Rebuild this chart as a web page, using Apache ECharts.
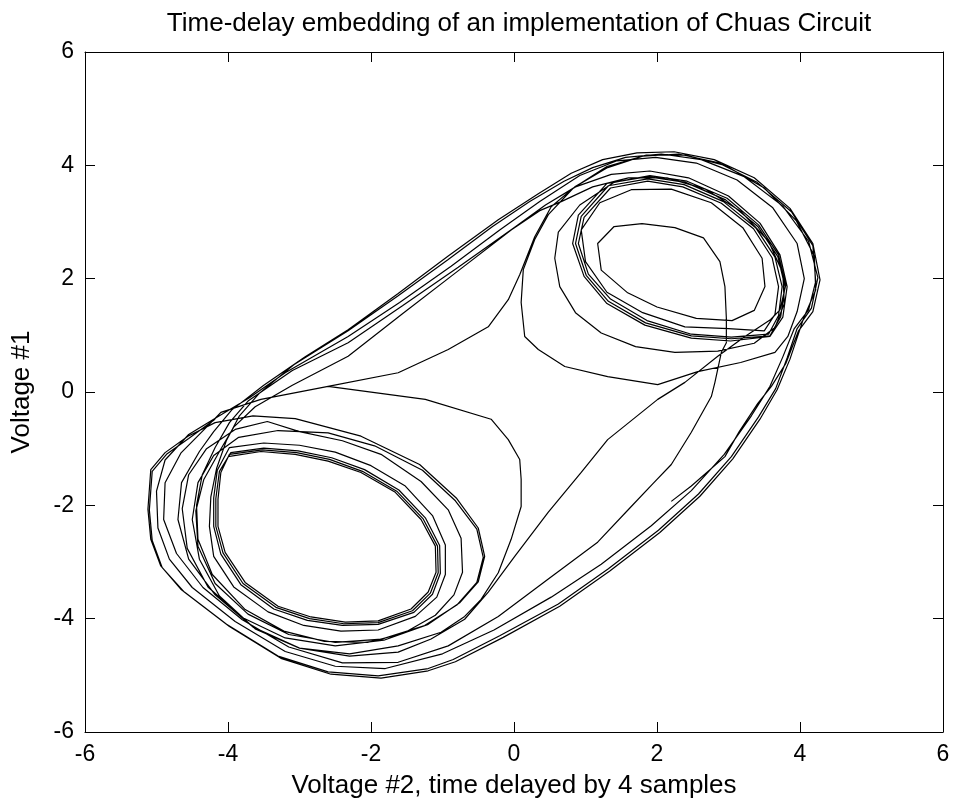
<!DOCTYPE html>
<html>
<head>
<meta charset="utf-8">
<title>Chua circuit time-delay embedding</title>
<script src="https://cdn.jsdelivr.net/npm/echarts@6/dist/echarts.min.js"></script>
<style>
  html, body { margin: 0; padding: 0; background: #fff; }
  #chart { width: 957px; height: 804px; }
</style>
</head>
<body>
<div id="chart"></div>
<script>
// Axis ticks (both axes run -6..6 in steps of 2)
const xTicks = [-6, -4, -2, 0, 2, 4, 6];
const yTicks = [-6, -4, -2, 0, 2, 4, 6];

// Trajectory pieces, in the order the circuit visits them: [V2(t-4), V1(t)]
// Lower-left scroll: tight inner orbits
const leftInner1 = [[-4.00,-1.14],[-3.54,-1.05],[-3.06,-1.10],[-2.60,-1.22],[-2.14,-1.42],[-1.66,-1.77],[-1.30,-2.25],[-1.10,-2.72],[-1.09,-3.18],[-1.20,-3.53],[-1.44,-3.83],[-1.90,-4.04],[-2.36,-4.06],[-2.84,-3.97],[-3.30,-3.78],[-3.76,-3.36],[-4.04,-2.83],[-4.14,-2.37],[-4.14,-1.89],[-4.10,-1.42]];
const leftInner2 = [[-3.98,-1.10],[-3.52,-1.02],[-3.04,-1.07],[-2.58,-1.19],[-2.12,-1.40],[-1.64,-1.75],[-1.27,-2.24],[-1.07,-2.72],[-1.06,-3.19],[-1.17,-3.55],[-1.42,-3.86],[-1.90,-4.07],[-2.38,-4.09],[-2.86,-4.00],[-3.33,-3.80],[-3.79,-3.38],[-4.07,-2.84],[-4.17,-2.37],[-4.17,-1.88],[-4.12,-1.40]];
const leftInner3 = [[-3.96,-1.07],[-3.50,-0.99],[-3.02,-1.04],[-2.55,-1.16],[-2.09,-1.37],[-1.61,-1.73],[-1.24,-2.22],[-1.04,-2.71],[-1.03,-3.20],[-1.14,-3.57],[-1.40,-3.89],[-1.90,-4.10],[-2.40,-4.12],[-2.89,-4.03],[-3.36,-3.83],[-3.82,-3.40],[-4.10,-2.86],[-4.20,-2.37],[-4.20,-1.87],[-4.15,-1.38]];
const leftRingB = [[-3.98,-0.98],[-3.50,-0.90],[-3.00,-0.94],[-2.50,-1.06],[-2.00,-1.30],[-1.52,-1.66],[-1.14,-2.18],[-0.96,-2.70],[-0.96,-3.22],[-1.08,-3.62],[-1.38,-3.96],[-1.90,-4.20],[-2.42,-4.22],[-2.94,-4.12],[-3.44,-3.88],[-3.92,-3.44],[-4.20,-2.90],[-4.26,-2.37],[-4.24,-1.85]];
// First crossing to the upper-right scroll and back down the outer band
const riseOne = [[-4.16,-1.35],[-4.02,-0.85],[-3.84,-0.42],[-3.56,-0.02],[-3.08,0.48],[-2.32,1.08],[-1.62,1.70],[-0.92,2.34],[-0.30,2.92],[0.22,3.36],[0.70,3.72],[1.10,3.96],[1.56,4.14],[2.06,4.20],[2.62,4.10],[3.22,3.80],[3.76,3.28],[4.12,2.66],[4.25,2.02],[4.16,1.48],[3.96,1.12]];
const fallOne = [[3.82,0.60],[3.66,0.06],[3.42,-0.44],[3.04,-1.14],[2.58,-1.80],[2.02,-2.44],[1.32,-3.12],[0.62,-3.74],[-0.20,-4.30],[-0.85,-4.72],[-1.20,-4.88],[-1.90,-5.01],[-2.60,-4.94],[-3.30,-4.66],[-4.02,-4.10],[-4.66,-3.48],[-4.94,-3.07],[-5.08,-2.60],[-5.12,-2.07],[-5.08,-1.37],[-4.88,-1.07],[-4.56,-0.78],[-4.18,-0.54],[-3.65,-0.42]];
const leftRingD1 = [[-3.06,-0.47],[-2.14,-0.78],[-1.32,-1.28],[-0.80,-1.88],[-0.50,-2.40],[-0.41,-2.90],[-0.50,-3.35],[-0.76,-3.72],[-1.20,-4.10],[-1.82,-4.38],[-2.50,-4.48],[-3.20,-4.34],[-3.80,-3.98],[-4.28,-3.44],[-4.57,-2.76],[-4.64,-2.06],[-4.55,-1.46],[-4.30,-1.00],[-3.90,-0.66],[-3.45,-0.52]];
const leftRingC = [[-3.00,-0.70],[-2.40,-0.86],[-1.86,-1.10],[-1.30,-1.58],[-0.92,-2.08],[-0.74,-2.58],[-0.72,-3.18],[-0.84,-3.58],[-1.10,-3.94],[-1.55,-4.26],[-2.05,-4.42],[-2.65,-4.40],[-3.22,-4.22],[-3.76,-3.84],[-4.22,-3.22],[-4.42,-2.60],[-4.44,-2.00],[-4.36,-1.46]];
const riseTwo = [[-4.18,-0.98],[-3.98,-0.54],[-3.72,-0.16],[-3.10,0.38],[-2.32,0.87],[-1.56,1.52],[-0.78,2.20],[0.00,2.90],[0.44,3.30],[0.86,3.62],[1.36,3.84],[1.90,3.90],[2.44,3.78],[3.00,3.46],[3.44,2.98],[3.72,2.42],[3.82,1.86],[3.76,1.32],[3.58,0.98]];
// Upper-right scroll orbits
const rightRing1 = [[3.03,0.90],[2.48,0.95],[1.83,1.18],[1.30,1.56],[0.98,2.04],[0.82,2.62],[0.90,3.12],[1.30,3.68],[1.87,3.80],[2.40,3.70],[2.96,3.39],[3.41,2.92],[3.69,2.39],[3.79,1.86],[3.73,1.33],[3.58,0.99]];
const rightRing2 = [[3.04,0.94],[2.48,0.99],[1.84,1.22],[1.32,1.60],[1.01,2.06],[0.86,2.62],[0.94,3.10],[1.32,3.64],[1.87,3.76],[2.38,3.66],[2.93,3.36],[3.38,2.90],[3.65,2.38],[3.75,1.86],[3.70,1.35],[3.56,1.02]];
const rightRing3 = [[3.04,0.97],[2.48,1.02],[1.86,1.26],[1.35,1.64],[1.04,2.08],[0.90,2.62],[0.98,3.08],[1.35,3.60],[1.87,3.72],[2.36,3.62],[2.90,3.33],[3.35,2.88],[3.61,2.37],[3.70,1.86],[3.65,1.37],[3.50,1.08]];
const rightInner = [[3.00,1.12],[2.39,1.15],[1.80,1.40],[1.30,1.76],[1.00,2.30],[0.94,2.86],[1.20,3.34],[1.64,3.57],[2.20,3.58],[2.76,3.34],[3.20,2.90],[3.47,2.36],[3.51,1.86],[3.36,1.44],[3.05,1.26],[2.55,1.30],[2.00,1.50],[1.59,1.75],[1.22,2.15],[1.17,2.62],[1.40,2.92],[1.79,2.97],[2.25,2.90],[2.65,2.72],[2.88,2.30],[2.95,1.86]];
// Straight drop from the inner right orbit, around the left scroll and back over the saddle
const dropInner = [[2.97,1.30],[2.97,0.87],[2.90,0.70],[2.81,0.17],[2.76,-0.08],[2.48,-0.71],[2.20,-1.28],[1.94,-1.62],[1.64,-2.02],[1.17,-2.65],[0.48,-3.30],[-0.22,-3.96],[-0.92,-4.48],[-1.62,-4.77],[-2.40,-4.78],[-3.15,-4.50],[-3.80,-4.02],[-4.35,-3.45],[-4.72,-2.85],[-4.90,-2.25],[-4.88,-1.60],[-4.66,-1.08],[-4.30,-0.62],[-4.10,-0.36],[-3.54,-0.13],[-2.60,0.10]];
const saddleRise = [[-1.62,0.34],[-0.92,0.75],[-0.36,1.15],[-0.08,1.63],[0.08,2.07],[0.29,2.74],[0.52,3.27],[0.85,3.62],[1.31,3.96],[1.80,4.16],[2.30,4.20],[2.85,4.05],[3.40,3.70],[3.88,3.18],[4.18,2.58],[4.22,1.95],[4.12,1.45],[3.92,1.12]];
const fallTwo = [[3.76,0.62],[3.58,0.10],[3.32,-0.42],[2.94,-1.10],[2.48,-1.74],[1.92,-2.36],[1.22,-3.04],[0.52,-3.62],[-0.28,-4.20],[-1.00,-4.62],[-1.80,-4.88],[-2.50,-4.84],[-3.20,-4.58],[-3.90,-4.05],[-4.50,-3.45],[-4.82,-2.95],[-4.98,-2.40],[-5.00,-1.75],[-4.88,-1.20],[-4.55,-0.75],[-4.12,-0.42]];
const riseThree = [[-3.70,-0.10],[-3.20,0.34],[-2.32,0.98],[-1.60,1.58],[-0.88,2.22],[-0.20,2.86],[0.36,3.36],[0.92,3.82],[1.44,4.08],[1.98,4.14],[2.55,4.04],[3.12,3.74],[3.62,3.25],[3.96,2.62],[4.06,2.00],[3.96,1.42],[3.83,0.98]];
// Wide orbit of the right scroll passing near the origin
const rightWide = [[3.65,0.70],[3.17,0.52],[2.57,0.36],[2.01,0.13],[1.31,0.27],[0.71,0.45],[0.34,0.75],[0.15,0.98],[0.10,1.58],[0.13,2.16],[0.29,2.69],[0.48,3.13],[0.83,3.60],[1.30,3.98],[1.85,4.18],[2.40,4.18],[2.95,4.00],[3.50,3.60],[3.95,3.02],[4.20,2.40],[4.22,1.80],[4.05,1.30]];
const fallThree = [[3.86,0.58],[3.68,0.04],[3.44,-0.48],[3.06,-1.18],[2.60,-1.84],[2.04,-2.48],[1.34,-3.16],[0.64,-3.78],[-0.15,-4.33],[-0.82,-4.76],[-1.20,-4.92],[-1.86,-5.05],[-2.56,-4.98],[-3.26,-4.70],[-3.98,-4.14],[-4.62,-3.52],[-4.92,-3.10],[-5.06,-2.62],[-5.10,-2.08],[-5.06,-1.40],[-4.86,-1.10],[-4.55,-0.82],[-4.20,-0.50]];
// Wide orbit of the left scroll reaching the origin
const leftWide = [[-4.10,-0.36],[-3.54,-0.13],[-2.60,0.10],[-1.24,-0.13],[-0.32,-0.48],[-0.08,-0.84],[0.08,-1.19],[0.10,-1.54],[0.10,-2.02],[-0.04,-2.60],[-0.22,-3.19],[-0.46,-3.66],[-0.69,-3.96],[-1.02,-4.24],[-1.62,-4.48],[-2.30,-4.62],[-3.00,-4.52],[-3.62,-4.18],[-4.12,-3.60],[-4.40,-2.95],[-4.50,-2.25],[-4.42,-1.60],[-4.20,-1.12],[-3.85,-0.80],[-3.30,-0.68]];
const leftRingD2 = [[-2.60,-0.72],[-1.95,-0.95],[-1.28,-1.38],[-0.82,-1.92],[-0.52,-2.42],[-0.43,-2.92],[-0.52,-3.36],[-0.80,-3.76],[-1.25,-4.12],[-1.85,-4.36],[-2.50,-4.42],[-3.15,-4.28],[-3.72,-3.92],[-4.18,-3.38],[-4.42,-2.72],[-4.45,-2.10],[-4.34,-1.55]];
const riseFour = [[-4.12,-1.05],[-3.92,-0.62],[-3.62,-0.26],[-3.10,0.12],[-2.32,0.63],[-1.56,1.38],[-0.80,2.12],[-0.04,2.86],[0.36,3.20],[0.66,3.36]];
const rightMid = [[1.10,3.62],[1.60,3.78],[2.14,3.78],[2.68,3.58],[3.18,3.18],[3.56,2.66],[3.76,2.10],[3.78,1.56],[3.65,1.14],[3.36,0.86],[2.85,0.72],[2.25,0.70],[1.70,0.80],[1.22,1.04],[0.86,1.40],[0.64,1.86],[0.57,2.36],[0.62,2.82],[0.92,3.30],[1.40,3.70],[1.90,3.82],[2.42,3.72],[2.98,3.42],[3.42,2.95],[3.70,2.42],[3.80,1.88],[3.72,1.45],[3.59,1.28]];
// Diagonal drop across the middle back into the left scroll
const dropCross = [[3.23,0.98],[2.85,0.63],[2.39,0.17],[2.01,-0.13],[1.31,-0.84],[0.94,-1.42],[0.48,-2.12],[0.01,-2.90],[-0.36,-3.53],[-0.69,-4.01],[-1.16,-4.36],[-1.62,-4.59],[-2.30,-4.66],[-3.00,-4.52],[-3.65,-4.15],[-4.18,-3.58],[-4.55,-2.95],[-4.70,-2.25],[-4.65,-1.60],[-4.40,-1.05]];
const riseFive = [[-4.20,-0.70],[-3.95,-0.32],[-3.50,0.12],[-2.92,0.62],[-2.32,1.10],[-1.62,1.74],[-0.92,2.40],[-0.22,3.04],[0.34,3.50],[0.80,3.86],[1.24,4.10],[1.72,4.22],[2.24,4.24],[2.80,4.10],[3.36,3.78],[3.86,3.24],[4.18,2.62],[4.28,1.98],[4.18,1.42],[3.98,1.08]];
const fallEnd = [[3.80,0.50],[3.60,0.10],[3.41,-0.20],[3.15,-0.70],[2.95,-1.14],[2.48,-1.66],[2.20,-1.93]];

const trajectory = [].concat(
  leftInner1, leftInner2, leftInner3, leftRingB, riseOne, fallOne,
  leftRingD1, leftRingC, riseTwo, rightRing1, rightRing2, rightRing3,
  rightInner, dropInner, saddleRise, fallTwo, riseThree, rightWide,
  fallThree, leftWide, leftRingD2, riseFour, rightMid, dropCross,
  riseFive, fallEnd
);

const FONT = "'Liberation Sans', Arial, Helvetica, sans-serif";
const tickLabel = { color: '#000', fontFamily: FONT, fontSize: 23 };

function makeAxis(ticks, extra) {
  return Object.assign({
    type: 'value',
    min: ticks[0],
    max: ticks[ticks.length - 1],
    interval: ticks[1] - ticks[0],
    splitLine: { show: false },
    axisLine: { show: true, onZero: false, lineStyle: { color: '#000', width: 1 } },
    axisTick: { show: true, inside: true, length: 10, lineStyle: { color: '#000', width: 1 } },
    axisLabel: Object.assign({ show: true, margin: 11 }, tickLabel)
  }, extra);
}

const chart = echarts.init(document.getElementById('chart'), null, { renderer: 'canvas' });
chart.setOption({
  animation: false,
  backgroundColor: '#fff',
  title: {
    text: 'Time-delay embedding of an implementation of Chuas Circuit',
    left: 514, top: 6, textAlign: 'center',
    textStyle: { color: '#000', fontFamily: FONT, fontSize: 26, fontWeight: 'normal' }
  },
  grid: { left: 85, right: 14, top: 52, bottom: 72, containLabel: false },
  xAxis: [
    makeAxis(xTicks, {
      position: 'bottom',
      name: 'Voltage #2, time delayed by 4 samples',
      nameLocation: 'middle', nameGap: 41,
      nameTextStyle: { color: '#000', fontFamily: FONT, fontSize: 26 }
    }),
    makeAxis(xTicks, { position: 'top', axisLabel: { show: false } })
  ],
  yAxis: [
    makeAxis(yTicks, {
      position: 'left',
      name: 'Voltage #1',
      nameLocation: 'middle', nameGap: 50, nameRotate: 90,
      nameTextStyle: { color: '#000', fontFamily: FONT, fontSize: 26 }
    }),
    makeAxis(yTicks, { position: 'right', axisLabel: { show: false } })
  ],
  series: [{
    type: 'line',
    xAxisIndex: 0,
    yAxisIndex: 0,
    data: trajectory,
    showSymbol: false,
    symbol: 'none',
    smooth: false,
    clip: true,
    lineStyle: { color: '#000', width: 1.2 }
  }]
});
</script>
</body>
</html>
